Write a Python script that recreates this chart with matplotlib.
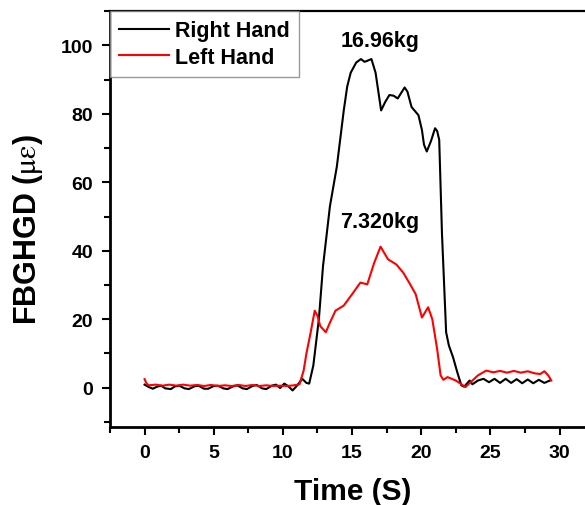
import numpy as np
import matplotlib.pyplot as plt
from matplotlib.ticker import MultipleLocator

plt.rcParams['font.family'] = ['Liberation Sans', 'DejaVu Sans']
plt.rcParams['mathtext.fontset'] = 'stix'

# Right hand (black)
right_t = [0.0, 0.3, 0.6, 0.9, 1.2, 1.5, 1.9, 2.2, 2.5, 2.9, 3.2, 3.6, 3.9, 4.3, 4.6,
           5.0, 5.3, 5.7, 6.0, 6.4, 6.7, 7.1, 7.4, 7.8, 8.1, 8.5, 8.8, 9.2, 9.5, 9.8,
           10.1, 10.4, 10.7, 11.0, 11.4, 11.7, 11.9, 12.2, 12.6, 12.9, 13.4, 13.9, 14.4,
           14.65, 14.9, 15.3, 15.64, 15.9, 16.1, 16.4, 16.7, 17.1, 17.4, 17.7, 18.0, 18.3,
           18.8, 19.0, 19.3, 19.8, 20.05, 20.2, 20.4, 20.7, 21.0, 21.15, 21.3, 21.5, 21.8,
           22.0, 22.3, 22.6, 22.9, 23.1, 23.5, 23.7, 24.1, 24.5, 24.9, 25.3, 25.7, 26.1,
           26.5, 26.9, 27.3, 27.7, 28.1, 28.5, 28.9, 29.3]
right_v = [0.9, 0.2, -0.3, 0.3, 0.6, -0.2, -0.4, 0.4, 0.6, -0.2, -0.4, 0.4, 0.6, -0.3, -0.3,
           0.5, 0.6, -0.2, -0.4, 0.4, 0.7, -0.2, -0.4, 0.5, 0.8, -0.2, -0.4, 0.6, 0.9, -0.1,
           1.2, 0.4, -0.8, 0.5, 2.6, 1.4, 1.2, 6.5, 20, 35.5, 53, 64.6, 81,
           88, 92, 95, 96, 95.2, 95.5, 96, 92, 81, 83.5, 85.5, 85.3, 84.5,
           87.7, 86.5, 82, 79.6, 75.3, 71, 69, 72, 75.8, 75, 72.4, 45, 16.2,
           12.3, 8.9, 4.6, 0.7, 0.3, 2.1, 1.0, 2.1, 2.6, 1.6, 2.6, 1.4, 2.6,
           1.4, 2.5, 1.3, 2.4, 1.3, 2.3, 1.4, 2.1]

# Left hand (red)
left_t = [0.0, 0.15, 0.3, 0.8, 1.3, 1.8, 2.3, 2.8, 3.3, 3.8, 4.3, 4.8, 5.3, 5.8, 6.3,
          6.8, 7.3, 7.8, 8.3, 8.8, 9.3, 9.8, 10.3, 10.8, 11.2, 11.5, 11.7, 12.0, 12.3,
          12.5, 12.7, 13.1, 13.4, 13.8, 14.4, 15.0, 15.6, 16.1, 16.6, 17.06, 17.6, 18.2,
          18.7, 19.2, 19.6, 20.05, 20.5, 20.8, 21.15, 21.4, 21.6, 21.9, 22.5, 23.2, 23.7,
          24.1, 24.7, 25.2, 25.7, 26.2, 26.7, 27.2, 27.7, 28.2, 28.6, 28.9, 29.2, 29.4]
left_v = [2.5, 1.2, 0.7, 0.9, 0.6, 0.9, 0.6, 0.9, 0.6, 0.8, 0.5, 0.8, 0.5, 0.7, 0.5,
          0.8, 0.5, 0.8, 0.5, 0.7, 0.5, 0.6, 0.5, 0.7, 1.0, 5, 10, 16, 22.5,
          21, 18, 16.2, 19, 22.5, 24, 27.3, 30.7, 30.2, 36.5, 41.2, 37.5, 36,
          33.6, 30.2, 27.3, 20.5, 23.5, 20, 11.3, 3.6, 2.3, 3.1, 2.1, 0.2, 2.1,
          3.6, 5.0, 4.5, 4.9, 4.4, 4.9, 4.4, 4.8, 4.2, 4.0, 4.8, 3.5, 2.1]

labels = ['16.96kg', '7.320kg']
label_pos = [(17.0, 101.5), (17.0, 48.5)]

fig = plt.figure(figsize=(5.85, 5.06), dpi=100)
ax = fig.add_axes([0.188, 0.154, 0.83, 0.822])

ax.plot(right_t, right_v, color='black', lw=1.5, label='Right Hand')
ax.plot(left_t, left_v, color='red', lw=1.5, label='Left Hand')

for txt, (x, y) in zip(labels, label_pos):
    ax.text(x, y, txt, ha='center', va='center', fontsize=15.5, fontweight='bold')

ax.set_xlim(-2.5, 32.6)
ax.set_ylim(-11.5, 110)
ax.xaxis.set_major_locator(MultipleLocator(5))
ax.xaxis.set_minor_locator(MultipleLocator(2.5))
ax.yaxis.set_major_locator(MultipleLocator(20))
ax.yaxis.set_minor_locator(MultipleLocator(10))

ax.spines['right'].set_visible(False)
for s in ['left', 'bottom']:
    ax.spines[s].set_linewidth(2)
ax.spines['top'].set_linewidth(1.6)

ax.tick_params(which='major', direction='out', length=6, width=1.5, labelsize=14, pad=6)
ax.tick_params(which='minor', direction='out', length=4, width=1.5)
ax.tick_params(top=False, right=False)
for lab in ax.get_xticklabels() + ax.get_yticklabels():
    lab.set_fontweight('bold')

ax.set_xlabel('Time (S)', fontsize=21.5, fontweight='bold', labelpad=12)
ax.set_ylabel(r'FBGHGD ($\mathrm{\mu\varepsilon}$)', fontsize=22, fontweight='bold')
ax.yaxis.set_label_coords(-0.134, 0.478)

leg = ax.legend(loc='upper left', frameon=True, fancybox=False,
                prop={'size': 15.5, 'weight': 'bold'},
                borderaxespad=0, handlelength=2.3, handletextpad=0.3,
                borderpad=0.42, labelspacing=0.25)
leg.get_frame().set_edgecolor('gray')
leg.get_frame().set_linewidth(1)

fig.savefig('out.png', dpi=100)
